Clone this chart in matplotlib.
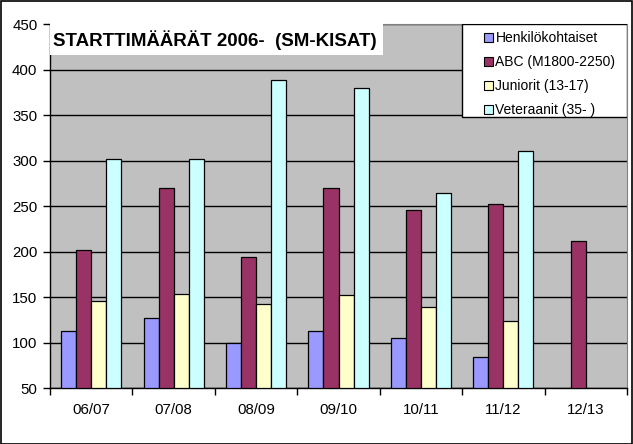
import numpy as np
import matplotlib
matplotlib.use("Agg")
import matplotlib.pyplot as plt
from matplotlib.patches import Rectangle

plt.rcParams['font.family'] = ['Liberation Sans', 'DejaVu Sans']

# data
seasons = ["06/07", "07/08", "08/09", "09/10", "10/11", "11/12", "12/13"]
henkilo = [113, 127, 99, 113, 105, 84, np.nan]
abc = [202, 270, 194, 270, 246, 252, 212]
juniorit = [146, 153, 142, 152, 139, 124, np.nan]
veteraanit = [302, 302, 389, 380, 264, 310, np.nan]

labels = ["Henkilökohtaiset", "ABC (M1800-2250)", "Juniorit (13-17)", "Veteraanit (35- )"]
colors = ["#9999FF", "#993366", "#FFFFCC", "#CCFFFF"]
title = "STARTTIMÄÄRÄT 2006-  (SM-KISAT)"

W, H = 633, 444
fig = plt.figure(figsize=(W / 100, H / 100), dpi=100, facecolor="white")
ax = fig.add_axes([50 / W, (H - 388) / H, 577 / W, 364 / H])
ax.set_facecolor("#C0C0C0")

x = np.arange(len(seasons))
bw = 0.182
for i, (vals, col, lab) in enumerate(zip([henkilo, abc, juniorit, veteraanit], colors, labels)):
    ax.bar(x + (i - 1.5) * bw, np.array(vals, dtype=float) - 50, bottom=50, width=bw,
           color=col, edgecolor="black", linewidth=0.9, label=lab, zorder=3)

ax.set_xlim(-0.5, len(seasons) - 0.5)
ax.set_ylim(50, 450)
ax.set_yticks(range(50, 451, 50))
ax.yaxis.grid(True, color="black", linewidth=1.0, zorder=1)
ax.set_axisbelow(True)

ax.set_xticks(x)
ax.set_xticklabels(seasons, fontsize=10.8)
ax.set_xticks(np.arange(-0.5, len(seasons), 1.0), minor=True)
ax.tick_params(axis="x", which="major", length=0, pad=11)
ax.tick_params(axis="x", which="minor", length=5, width=1, direction="out")
ax.tick_params(axis="y", length=5, width=1, labelsize=10.8, pad=4)

for s in ["top", "right"]:
    ax.spines[s].set_color("#808080")
    ax.spines[s].set_linewidth(0.8)
for s in ["left", "bottom"]:
    ax.spines[s].set_color("black")
    ax.spines[s].set_linewidth(1.0)

# title box inside the plot area
ax.add_patch(Rectangle((0, 0.915), 0.577, 0.09, transform=ax.transAxes,
                       facecolor="white", edgecolor="none", zorder=4, clip_on=False))
ax.text(0.005, 0.957, title, transform=ax.transAxes, ha="left", va="center",
        fontsize=13.5, fontweight="bold", zorder=5)

# legend box
ax.add_patch(Rectangle((0.714, 0.745), 0.286, 0.255, transform=ax.transAxes,
                       facecolor="white", edgecolor="black", linewidth=1.0, zorder=6))
leg = ax.legend(loc="upper left", bbox_to_anchor=(0.752, 0.98), fontsize=10,
                frameon=False, borderpad=0,
                handlelength=0.65, handleheight=0.65, handletextpad=0.18,
                labelspacing=0.72, borderaxespad=0)
leg.set_zorder(7)
for h in leg.legend_handles:
    h.set_linewidth(0.8)

# outer border
fig.add_artist(Rectangle((0.5 / W, 0.5 / H), 1 - 1.5 / W, 1 - 1.5 / H, transform=fig.transFigure,
                         fill=False, edgecolor="black", linewidth=1.2))

fig.savefig("out.png", dpi=100, facecolor="white")
